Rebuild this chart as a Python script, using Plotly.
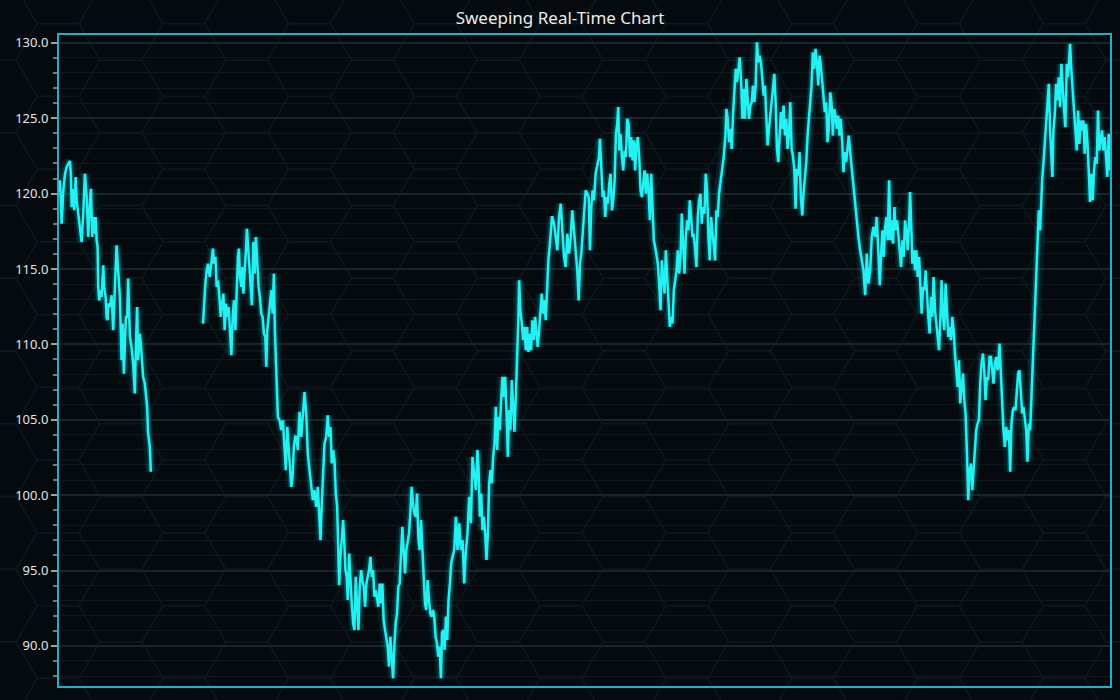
import math
import plotly.graph_objects as go

title_text = "Sweeping Real-Time Chart"
y_tick_values = [90, 95, 100, 105, 110, 115, 120, 125, 130]

# sample position within the sweep (0 .. 1053) and value; None marks the sweep gap
sample_index = [
    0, 1, 2.7, 4.3, 6, 7.7, 9.3, 11, 12, 12.7, 14.3, 15.3, 16.7, 17.7, 19.3, 21, 22.7, 24.3, 26, 27.7,
    29.3, 31, 32, 33.3, 34.3, 36, 36.7, 37.7, 38.7, 39.3, 40.3, 41.7, 42.7, 44.3, 45.3, 46.7, 47.7, 48.7,
    49.3, 51, 52.7, 54.3, 56, 57.7, 59.3, 61, 62.7, 63.7, 65, 66, 67, 68.3, 69.3, 71, 72.7, 74.3, 76, 77,
    78.3, 79.3, 81, 82, 83.3, 84.3, 86, 87, 88.3, 89.3, 91, 92,
    118,
    144.3, 145.3, 146.7, 148, 149.3, 151, 152.7, 154.3, 155.3, 156.7, 158, 159.3, 160.7, 162, 163.3, 164.7,
    166, 167.3, 168.7, 170, 171.3, 172.7, 174, 175.3, 176.7, 178, 179.3, 180.3, 181.3, 182.7, 183.7, 184.7,
    186, 187.3, 188.3, 189.3, 190.7, 192, 193.3, 194.7, 196, 197.3, 198.7, 200, 201.3, 202.7, 204, 205.3,
    206.7, 207.7, 208.7, 210, 211.3, 212.7, 214, 215.3, 216.3, 217.3, 218.3, 219.3, 221, 222.7, 224.3, 226,
    227.3, 228.7, 230, 231.3, 232.7, 234, 235.3, 236.7,
    237.7, 239.3, 241, 242.7, 244.3, 246, 247.7, 249.3, 251, 252.7, 254.3, 256, 257.7, 259.3, 261, 262,
    263.3, 264.7, 266, 267.7, 269.3, 270.7, 272, 273.3, 274.7, 276, 277.3, 278.7, 279.7, 280.7, 282, 283.3,
    284.7, 286, 287, 288.3, 289.3, 290.7, 292, 293.3, 294.7, 296, 297.3, 298.7, 300, 301.3, 302.7, 304,
    305.3, 306.7, 308, 309.3, 310.7, 312, 313.3, 314.7, 316, 317.3, 318.7, 320, 321.3, 322.7, 324, 325.3,
    326.7, 328, 329.3, 330.7, 332, 333.3, 334.7, 336, 337.3, 338.7, 340, 341.3, 342.7, 344, 345.3, 346.7,
    348, 349.3, 350.7, 352, 353.3, 354.7, 356, 357.3, 358.7, 360, 361.3, 362.7, 364, 365.3, 366.7, 368,
    369.3, 370.7, 372, 373.3, 374.7, 376, 377.3, 378.7, 380, 381.3, 382.7,
    383.7, 385, 386.3, 387.7, 389, 390.3, 391.7, 393, 394.3, 396, 397.7, 399.3, 401, 402.7, 404.3, 406,
    407.7, 409.3, 411, 412.7, 414.3, 416, 417.7, 419.3, 420.3, 421.7, 423, 424.3, 425.7, 427, 428.3, 429.7,
    431, 432.3, 433.7, 435, 436.3, 437.7, 439, 440.3, 441.7, 443, 444.3, 445.7, 447, 448.3, 449.7, 451,
    452.3, 453.7, 455, 456.3, 457.7, 459, 460.3, 461, 462.3, 463.7, 465, 466.3, 467.7, 469, 470.3, 471.7,
    473, 474.3, 475.7, 477, 478.3, 479.7, 481, 482.3, 483.7, 485, 486.3, 487.7, 489, 490.3, 492, 494,
    496, 497.7, 499.3, 501, 502.7, 504.3, 506, 507.7, 509.3, 511, 512.7, 514.3, 516, 517.7, 519.3, 520.7,
    522, 523.3, 524.7, 526, 527.7, 529.3, 530.7, 532, 533.3, 534.7, 536, 537.7, 539.3, 541, 542, 543.3,
    544.7, 546, 547.3, 548.7, 550, 551.3, 552.7, 554, 555.3, 556.7, 558, 559.3, 560.3, 561.3, 562.7, 564,
    565.3, 566.7, 568, 569.3, 570.7, 572, 573.3, 574.7, 576, 577.3, 578.7, 580, 581.3, 582.7, 584, 585.3,
    586.7, 588, 589.3, 590.7, 592, 593.3, 594.7, 596, 597.3, 598.7, 600, 601.3, 602.7, 604, 605.3, 606.7,
    608, 609.3, 610.7, 612, 613.3, 614.7, 616, 617.3, 618.7, 620, 621.3, 622.7, 624, 625.3, 626.7, 628,
    629.3, 630.7, 632, 633.3, 634.7, 636, 637.3, 638.7, 640, 641.3, 642.7, 644, 645.3, 646.7, 648, 649.3,
    650.7, 652, 653.3, 654.7, 656, 657.3, 658.7, 660, 661.3, 662.7, 664.3, 666,
    667.7, 668.7, 670, 671.3, 672.7, 674, 675.3, 676.7, 678, 679.3, 680.7, 682, 683.3, 684.7, 686, 687.3,
    688.7, 690, 691.3, 692.7, 694, 695.3, 696.7, 698, 699.3, 700.7, 702, 703.3, 704.7, 706, 707.3, 708.7,
    710, 711.3, 712.7, 714, 715.3, 716.7, 718, 719.3, 720.7, 722, 723.3, 724.7, 726, 727.3, 728.7, 730,
    731.3, 732.7, 734, 735.3, 736.7, 738, 739.3, 740.7, 742, 743.3, 744.7, 746, 747.3, 748.7, 750, 751.3,
    752.7, 754, 755.3, 756.7, 758, 759.3, 760.7, 762, 763.3, 764.7, 766, 767.3, 768.7, 770, 771.3, 772.7,
    774, 775.3, 776.7, 778, 779.3, 780.7, 782, 783.3, 784.7, 786, 787.3, 788.7, 790, 791.3, 792.7, 794,
    795.3, 796.7, 798, 799.3,
    801, 802.7, 804.3, 806, 807.7, 809.3, 811, 812.7, 814.3, 816, 817.7, 819.3, 821, 822.3, 823.7, 825,
    826.3, 827.7, 829, 830.3, 831.7, 833, 834.3, 835.7, 837, 838.3, 839.7, 841, 842.3, 843.7, 845, 846.3,
    847.7, 849, 850.3, 851.7, 852.7, 853.7, 855, 856.3, 857.7, 859, 860.3, 861.7, 863, 864.3, 865.7, 867,
    868.3, 869.7, 871, 872.3, 873.7, 875, 876.3, 877.7, 879, 880.3, 881.7, 883, 884.3, 885.7, 887, 888.3,
    889.7, 891, 892.3, 893.7, 895, 896.3, 897.7, 899, 900.3, 901.7, 903, 904.3, 905.7, 907, 908.3, 909.7,
    911, 912.3, 913.7, 915, 916.3, 917.7, 919, 920.3, 921.7, 923, 924.3, 925.7, 927, 928.3, 929.7, 931,
    932.3, 933.7, 935, 936.3, 937.7, 939, 940.3,
    941, 942.3, 943.7, 945, 946.3, 947.7, 949, 950.3, 951.7, 953, 954.3, 955.7, 957, 958.3, 959.7, 961,
    962.3, 963.7, 965, 966.3, 967.7, 969, 970.3, 971.7, 973, 974.3, 975.7, 977, 978.3, 979.7, 980.3, 981.7,
    983, 983.7, 985, 986.3, 987.7, 989, 990.3, 991.7, 993, 994.3, 995.3, 996.3, 997.7, 999, 1000.3, 1001.7,
    1003, 1004.3, 1005.7, 1007, 1008.3, 1009.7, 1011, 1012.3, 1013, 1014.3, 1015.7, 1017, 1018.3, 1019.7,
    1021, 1022.3, 1023.7, 1025, 1026.3, 1027.7, 1029, 1030.3, 1031.7, 1033, 1034.3, 1035.7, 1037, 1038.3,
    1039.7, 1041, 1042.3, 1043.7, 1045, 1046.3, 1047.7, 1049, 1050.3, 1051.7, 1053,
]

value = [
    120.1, 120.88, 118.0, 120.2, 121.3, 121.76, 121.98, 122.16, 121.1, 119.1, 120.3, 118.9, 121.1, 119.55,
    118.67, 117.78, 116.79, 118.67, 121.32, 119.77, 117.12, 119.55, 120.32, 117.12, 118.45, 117.34, 118.45,
    116.9, 116.46, 113.81, 112.92, 113.59, 113.14, 115.24, 113.81, 113.14, 111.82, 111.6, 112.7, 112.48,
    113.26, 110.94, 113.37, 116.57, 114.91, 113.14, 108.95, 111.38, 108.06, 110.94, 111.82, 111.82, 114.36,
    110.5, 109.83, 108.73, 106.74, 109.83, 112.48, 108.95, 110.72, 110.05, 108.73, 107.84, 107.4, 106.74,
    105.86, 104.09, 103.2, 101.55,
    None,
    111.38, 112.7, 114.03, 114.91, 115.35, 114.47, 115.58, 116.35, 115.35, 115.8, 113.81, 114.25, 113.14,
    111.82, 112.7, 113.37, 110.94, 112.7, 111.82, 112.48, 110.94, 109.28, 111.82, 112.92, 110.94, 113.59,
    115.8, 116.35, 114.47, 113.81, 115.13, 113.37, 115.35, 116.24, 117.67, 116.68, 115.8, 114.03, 112.59,
    116.79, 114.69, 117.12, 115.35, 113.81, 113.14, 112.04, 111.82, 110.72, 110.5, 108.51, 110.94, 111.82,
    112.48, 113.59, 112.04, 114.69, 110.94, 108.73, 106.08, 105.19, 104.97, 104.31, 104.97, 103.2, 101.66,
    104.53, 102.98, 102.1, 100.55, 101.22, 103.2, 103.87,
    103.86, 102.98, 105.52, 103.86, 105.41, 106.84, 105.41, 102.76, 101.65, 100.55, 99.67, 100.33, 99.22,
    100.55, 98.56, 97.01, 99.44, 101.65, 103.42, 103.86, 105.3, 103.86, 104.52, 102.1, 102.98, 102.32,
    100.11, 99.22, 96.13, 94.03, 95.91, 97.24, 98.34, 96.57, 95.03, 94.58, 93.04, 96.13, 94.14, 92.82,
    91.49, 91.05, 94.58, 92.82, 91.05, 93.92, 95.03, 94.36, 93.92, 92.6, 94.14, 94.58, 95.03, 95.91, 94.58,
    95.03, 93.26, 93.7, 93.04, 92.6, 94.14, 92.82, 94.14, 91.71, 91.05, 90.61, 89.95, 88.62, 90.61, 89.28,
    87.85, 89.95, 91.49, 92.15, 93.92, 94.14, 95.91, 97.9, 96.35, 94.81, 96.35, 96.79, 97.46, 98.78,
    100.55, 99.44, 98.78, 98.56, 100.11, 97.24, 96.35, 98.34, 96.13, 95.03, 92.82, 92.38, 94.36, 93.04,
    92.15, 91.93, 92.38, 91.93, 90.61, 90.17, 89.28, 89.95, 87.85,
    90.84, 91.06, 89.73, 91.94, 90.4, 93.05, 94.15, 95.48, 95.92, 96.36, 98.57, 96.36, 98.13, 96.36, 97.02,
    94.15, 96.36, 97.46, 99.89, 98.13, 102.54, 101.22, 100.34, 102.99, 101.88, 98.57, 100.11, 97.68, 98.57,
    97.46, 95.7, 97.46, 100.78, 101.66, 100.78, 102.54, 103.43, 105.86, 102.99, 105.2, 104.31, 106.3,
    107.85, 106.52, 107.85, 105.64, 102.54, 105.64, 104.31, 107.63, 105.64, 104.2, 106.52, 108.95, 111.82,
    114.25, 112.26, 111.38, 110.28, 111.16, 109.61, 111.16, 109.5, 110.72, 109.61, 111.6, 110.28, 111.82,
    110.5, 109.83, 110.94, 112.48, 113.37, 112.04, 112.93, 111.6, 114.03, 115.58, 116.8, 118.5,
    118.0, 116.9, 116.24, 118.45, 119.33, 117.56, 115.8, 115.13, 117.34, 116.02, 117.12, 118.89, 117.56,
    116.46, 114.91, 112.92, 115.35, 116.02, 117.56, 118.89, 120.21, 119.99, 119.77, 116.24, 119.11, 120.21,
    119.55, 121.32, 121.76, 122.42, 123.64, 121.54, 119.77, 120.21, 118.45, 119.77, 119.33, 120.66, 121.32,
    118.89, 119.55, 120.88, 123.97, 124.63, 125.74, 122.86, 123.97, 122.42, 121.54, 122.86, 122.42, 124.96,
    124.63, 122.42, 123.75, 122.2, 123.53, 121.54, 123.31, 123.75, 122.42, 120.21, 119.77, 120.66, 121.54,
    119.99, 121.32, 120.21, 118.23, 121.32, 118.23, 116.9, 116.46, 115.8, 115.35, 114.03, 112.26, 115.57,
    114.47, 113.37, 116.24, 114.47, 112.48, 111.16, 111.82, 111.38, 113.59, 114.25, 114.91, 116.24, 114.69,
    115.8, 118.67, 116.68, 114.69, 117.12, 118.23, 117.56, 119.55, 118.45, 117.12, 117.34, 116.24, 115.13,
    118.45, 119.55, 119.99, 118.0, 119.11, 118.67, 121.32, 120.21, 117.12, 115.57, 118.45, 117.56, 116.68,
    115.57, 118.89, 118.45, 119.99, 120.66, 121.32, 122.42,
    123.85, 125.62, 124.96, 123.41, 124.3, 122.97, 125.18, 127.17, 128.27, 127.39, 128.27, 129.04, 127.61,
    124.96, 126.95, 124.96, 127.61, 126.06, 124.96, 125.84, 126.06, 127.17, 126.06, 127.17, 130.04, 128.71,
    129.15, 128.71, 127.39, 126.5, 127.17, 125.18, 123.19, 124.3, 125.4, 126.5, 126.95, 127.94, 126.06,
    122.97, 122.09, 123.85, 125.4, 124.3, 125.84, 123.85, 124.96, 122.97, 123.85, 126.06, 122.97, 122.53,
    121.64, 118.99, 121.64, 121.2, 122.75, 119.66, 118.55, 120.1, 121.2, 122.09, 123.85, 124.96, 126.06,
    127.17, 129.38, 128.27, 129.6, 128.71, 127.17, 129.15, 128.49, 127.39, 126.72, 125.4, 126.06, 123.41,
    124.3, 126.72, 126.06, 123.85, 125.62, 125.18, 124.3, 125.18, 123.85, 124.96, 123.41, 121.42, 122.75,
    122.09, 122.97, 123.85, 122.75, 121.87, 120.76, 120.1, 118.99, 117.89,
    117.12, 116.24, 115.58, 114.91, 113.26, 116.02, 114.03, 114.91, 117.12, 117.78, 117.12, 118.45, 116.02,
    113.92, 116.02, 117.56, 115.8, 117.78, 118.45, 116.9, 120.88, 116.9, 118.23, 116.68, 119.11, 117.56,
    118.23, 116.9, 116.24, 115.13, 116.9, 115.8, 118.23, 117.56, 116.24, 118.01, 120.1, 118.23, 115.35,
    116.24, 114.91, 116.24, 114.47, 115.8, 114.03, 112.04, 113.81, 113.59, 114.91, 112.7, 111.82, 110.72,
    113.15, 111.82, 114.47, 112.26, 111.38, 110.5, 109.61, 111.6, 114.25, 111.82, 110.94, 114.03, 112.26,
    110.5, 111.16, 110.28, 111.82, 110.94, 109.39, 108.29, 107.18, 108.95, 106.08, 107.18, 108.07, 106.3,
    105.41, 102.76, 99.67, 101.66, 102.1, 100.33, 101.66, 102.76, 104.31, 104.75, 104.97, 107.4, 108.73,
    109.39, 108.29, 106.3, 107.84, 107.62, 109.17, 109.17, 108.29, 107.4, 108.73, 109.17, 108.29,
    108.5, 110.05, 107.62, 105.42, 104.31, 103.2, 104.53, 103.64, 104.31, 101.55, 104.75, 105.63, 105.85,
    105.63, 106.74, 108.06, 108.28, 106.52, 105.42, 105.85, 104.75, 104.31, 102.21, 104.75, 104.31, 106.52,
    108.72, 111.38, 114.03, 115.79, 117.56, 118.89, 117.56, 119.33, 120.88, 121.98, 123.53, 125.07, 126.4,
    127.28, 124.19, 122.86, 121.1, 124.19, 125.29, 127.28, 126.18, 127.72, 125.73, 128.61, 126.4, 125.51,
    124.41, 128.61, 127.72, 129.27, 129.93, 128.16, 126.84, 125.29, 124.19, 122.86, 125.51, 123.3, 124.85,
    124.19, 124.85, 122.64, 124.63, 123.53, 121.54, 119.44, 121.32, 119.55, 121.54, 122.42, 121.98, 125.51,
    122.86, 123.75, 124.19, 122.86, 123.75, 122.42, 121.1, 123.97, 121.54,
]

W, H = 1120, 700
ML, MR, MT, MB = 59, 8, 35, 14
PW, PH = W - ML - MR, H - MT - MB


def to_paper(px, py):
    return (px - ML) / PW, (H - MB - py) / PH


# decorative honeycomb background
s = 42.0
hh = s * math.sqrt(3) / 2
segs = []
for k in range(-2, 20):
    cx = 58 + 1.5 * s * k
    for m in range(-2, 12):
        cy = 60 + 2 * hh * m + (hh if k % 2 else 0)
        pts = [(cx + s, cy), (cx + s / 2, cy + hh), (cx - s / 2, cy + hh),
               (cx - s, cy), (cx - s / 2, cy - hh), (cx + s / 2, cy - hh)]
        pp = [to_paper(x, y) for x, y in pts]
        segs.append("M " + " L ".join(f"{x:.4f},{y:.4f}" for x, y in pp) + " Z")
hex_path = " ".join(segs)

fig = go.Figure()
fig.add_trace(go.Scatter(x=sample_index, y=value, mode="lines", connectgaps=False,
                         line=dict(color="rgba(0,235,255,0.08)", width=11), hoverinfo="skip",
                         showlegend=False))
fig.add_trace(go.Scatter(x=sample_index, y=value, mode="lines", connectgaps=False,
                         line=dict(color="rgba(0,240,255,0.20)", width=6), hoverinfo="skip",
                         showlegend=False))
fig.add_trace(go.Scatter(x=sample_index, y=value, mode="lines", connectgaps=False,
                         line=dict(color="#24f2f2", width=2.5), showlegend=False))

fig.update_layout(
    width=W, height=H,
    margin=dict(l=ML, r=MR, t=MT, b=MB),
    paper_bgcolor="#050a0e",
    plot_bgcolor="rgba(0,0,0,0)",
    title=dict(text=title_text, x=0.5, xanchor="center", y=1 - 18 / H, yanchor="middle",
               font=dict(family="Noto Sans, Open Sans, sans-serif", size=17, color="#ececec")),
    font=dict(family="Noto Sans, Open Sans, sans-serif"),
    shapes=[dict(type="path", path=hex_path, xref="paper", yref="paper",
                 line=dict(color="#0a181d", width=1.8), layer="below")],
    showlegend=False,
)
fig.update_xaxes(range=[0, 1053], showticklabels=False, ticks="", showgrid=False, zeroline=False,
                 showline=True, mirror=True, linecolor="#1fb2c6", linewidth=2)
fig.update_yaxes(range=[87.34, 130.52], tickvals=y_tick_values, tickformat=".1f",
                 tickfont=dict(size=13, color="#e4e4e4"),
                 ticks="outside", ticklen=6, tickwidth=1.5, tickcolor="#9aa4a8",
                 showgrid=True, gridcolor="#16262b", gridwidth=1.5, zeroline=False,
                 minor=dict(dtick=1, tick0=0, ticks="outside", ticklen=4, tickcolor="#6d7a80",
                            showgrid=True, gridcolor="#0e191d", gridwidth=1),
                 showline=True, mirror=True, linecolor="#1fb2c6", linewidth=2)

fig.write_html("out.html")
